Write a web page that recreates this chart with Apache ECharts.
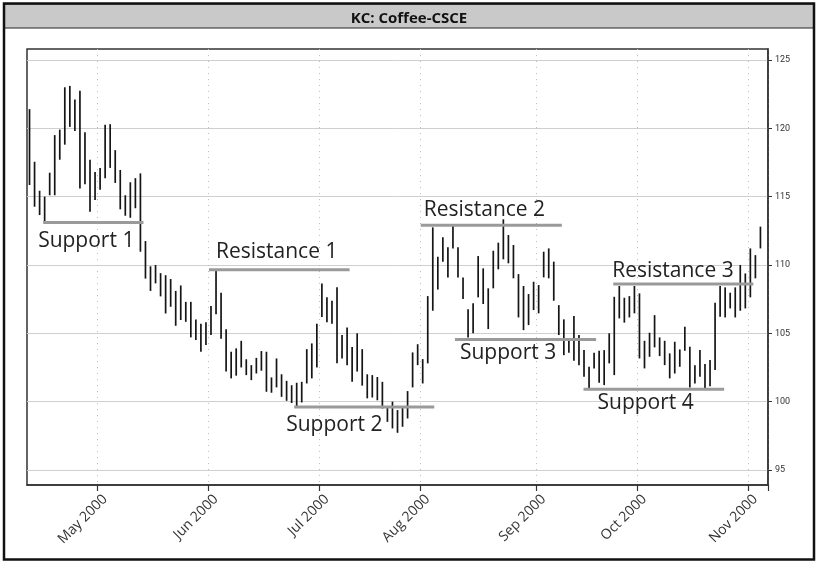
<!DOCTYPE html>
<html>
<head>
<meta charset="utf-8">
<script src="https://cdn.jsdelivr.net/npm/echarts@6/dist/echarts.min.js"></script>
<style>
  html, body { margin: 0; padding: 0; background: #fff; }
  #chart { width: 818px; height: 563px; }
</style>
</head>
<body>
<div id="chart"></div>
<script>
// Trading days (CSCE), Apr 10 - Nov 3 2000, one padding day at the end
const aprDays = [10, 11, 12, 13, 14, 17, 18, 19, 20, 24, 25, 26, 27, 28]
const mayDays = [1, 2, 3, 4, 5, 8, 9, 10, 11, 12, 15, 16, 17, 18, 19, 22, 23, 24, 25, 26, 30, 31]
const junDays = [1, 2, 5, 6, 7, 8, 9, 12, 13, 14, 15, 16, 19, 20, 21, 22, 23, 26, 27, 28, 29, 30]
const julDays = [3, 5, 6, 7, 10, 11, 12, 13, 14, 17, 18, 19, 20, 21, 24, 25, 26, 27, 28, 31]
const augDays = [1, 2, 3, 4, 7, 8, 9, 10, 11, 14, 15, 16, 17, 18, 21, 22, 23, 24, 25, 28, 29, 30, 31]
const sepDays = [1, 5, 6, 7, 8, 11, 12, 13, 14, 15, 18, 19, 20, 21, 22, 25, 26, 27, 28, 29]
const octDays = [2, 3, 4, 5, 6, 9, 10, 11, 12, 13, 16, 17, 18, 19, 20, 23, 24, 25, 26, 27, 30, 31]
const novDays = [1, 2, 3, 6]

const monthNames = ["Jan", "Feb", "Mar", "Apr", "May", "Jun", "Jul", "Aug", "Sep", "Oct", "Nov", "Dec"]

// daily high / low
const highs = [
  121.4, 117.55, 115.43, 115.0, 116.75, 119.5, 119.9, 123.0, 123.1, 122.1,
  122.75, 119.7, 117.7, 116.8, 117.1, 120.25, 120.3, 118.4, 116.95, 115.1,
  116.05, 116.35, 116.7, 111.75, 109.9, 110.0, 109.4, 109.25, 108.97, 108.1,
  108.5, 107.3, 107.3, 106.0, 105.7, 105.8, 107.0, 109.6, 107.97, 105.3,
  103.65, 103.9, 104.45, 103.1, 102.67, 103.2, 103.7, 103.65, 101.77, 103.16,
  102.0, 101.52, 101.2, 101.38, 101.45, 103.84, 104.26, 105.7, 108.65, 107.63,
  107.38, 108.36, 104.87, 105.43, 104.0, 105.0, 103.84, 102.0, 101.94, 101.8,
  101.45, 99.62, 100.0, 99.38, 99.62, 100.77, 103.6, 104.2, 103.11, 107.72,
  112.75, 110.6, 112.02, 111.29, 112.92, 111.29, 109.09, 106.75, 107.19, 110.65,
  109.75, 108.29, 111.04, 111.63, 113.34, 112.19, 111.46, 109.33, 108.46, 107.87,
  108.77, 108.53, 110.97, 111.21, 110.24, 107.06, 106.02, 104.45, 106.26, 104.87,
  103.77, 102.55, 103.57, 103.72, 103.77, 105.0, 107.67, 108.46, 107.6, 107.72,
  108.46, 107.92, 104.45, 105.04, 106.33, 104.7, 104.45, 103.53, 104.38, 103.82,
  105.48, 104.01, 102.67, 103.77, 102.75, 103.04, 107.23, 108.46, 108.36, 107.97,
  108.36, 110.0, 109.38, 111.21, 110.72, 112.8
]
const lows = [
  115.85, 114.26, 113.65, 113.16, 115.1, 115.1, 117.7, 118.8, 120.1, 119.8,
  115.6, 115.9, 113.9, 114.75, 115.5, 116.35, 117.1, 116.0, 114.07, 113.6,
  113.45, 114.15, 110.97, 109.0, 108.1, 108.65, 107.7, 106.45, 106.94, 105.55,
  105.97, 105.84, 104.7, 104.5, 103.65, 104.14, 104.87, 106.4, 104.6, 102.2,
  101.7, 101.9, 102.5, 101.94, 101.57, 102.06, 102.26, 100.72, 100.65, 101.04,
  100.35, 100.06, 99.9, 99.62, 99.94, 101.33, 101.7, 102.5, 106.2, 105.8,
  105.7, 102.8, 103.16, 102.67, 101.45, 102.2, 101.17, 100.24, 100.3, 100.1,
  99.5, 98.52, 98.04, 97.72, 98.16, 98.77, 101.04, 102.67, 101.33, 102.8,
  106.65, 108.2, 110.24, 109.09, 111.21, 109.09, 107.5, 104.7, 105.0, 107.63,
  107.14, 105.31, 108.29, 109.68, 110.41, 110.12, 109.02, 106.16, 105.23, 105.6,
  106.7, 106.46, 109.09, 109.02, 107.38, 104.87, 103.4, 103.57, 102.99, 102.67,
  101.82, 100.97, 102.43, 101.38, 101.21, 102.8, 101.94, 106.09, 105.78, 106.16,
  106.46, 103.16, 102.43, 103.28, 103.97, 103.33, 102.67, 101.7, 102.06, 102.55,
  103.72, 101.04, 101.33, 101.82, 100.97, 101.13, 102.31, 106.21, 106.16, 106.82,
  106.16, 106.65, 106.82, 107.63, 109.02, 111.21
]

// support / resistance levels: price, start and end (in trading-day positions)
const levelNames = ["Support 1", "Resistance 1", "Support 2", "Resistance 2", "Support 3", "Support 4", "Resistance 3"]
const levelPrice = [113.1, 109.65, 99.6, 112.9, 104.55, 100.9, 108.6]
const levelStart = [2.7, 35.6, 52.5, 77.6, 84.4, 109.9, 115.8]
const levelEnd = [22.6, 63.5, 80.3, 105.6, 112.4, 137.8, 143.6]

const priceTicks = [95, 100, 105, 110, 115, 120, 125]

// label placement relative to the start of each level line (px)
const labelLayout = [
  { dx: -5, dy: 18 }, { dx: 7, dy: -18 }, { dx: -8, dy: 17.5 }, { dx: 3, dy: -15.5 },
  { dx: 5, dy: 14 }, { dx: 14, dy: 13.5 }, { dx: -1, dy: -13.5 }
]

const pad = (d) => (d < 10 ? "0" + d : "" + d)
const dates = [].concat(
  aprDays.map((d) => "2000-04-" + pad(d)),
  mayDays.map((d) => "2000-05-" + pad(d)),
  junDays.map((d) => "2000-06-" + pad(d)),
  julDays.map((d) => "2000-07-" + pad(d)),
  augDays.map((d) => "2000-08-" + pad(d)),
  sepDays.map((d) => "2000-09-" + pad(d)),
  octDays.map((d) => "2000-10-" + pad(d)),
  novDays.map((d) => "2000-11-" + pad(d))
)

// first trading day of each month gets the tick, the grid line and the label
function isMonthStart(index) {
  return index > 0 && dates[index].slice(5, 7) !== dates[index - 1].slice(5, 7)
}

function monthLabel(value) {
  return monthNames[+value.slice(5, 7) - 1] + " " + value.slice(0, 4)
}

function renderBar(params, api) {
  const hi = api.coord([api.value(0), api.value(2)])
  const lo = api.coord([api.value(0), api.value(1)])
  return {
    type: "line",
    shape: { x1: hi[0], y1: hi[1], x2: lo[0], y2: lo[1] },
    style: { stroke: "#151515", lineWidth: 1.7 }
  }
}

function renderLevel(params, api) {
  const i = params.dataIndex
  const p0 = api.coord([0, levelPrice[i]])
  const p1 = api.coord([1, levelPrice[i]])
  const band = p1[0] - p0[0]
  const x1 = p0[0] + levelStart[i] * band
  const x2 = p0[0] + levelEnd[i] * band
  const y = p0[1]
  return {
    type: "group",
    children: [
      { type: "line", shape: { x1, y1: y, x2, y2: y }, style: { stroke: "#9a9a9a", lineWidth: 3 } },
      {
        type: "text",
        x: x1 + labelLayout[i].dx,
        y: y + labelLayout[i].dy,
        style: {
          text: levelNames[i],
          fill: "#222",
          font: '21px "Open Sans"',
          verticalAlign: "middle",
          align: "left"
        }
      }
    ]
  }
}

const chart = echarts.init(document.getElementById("chart"), null, { renderer: "canvas" })

chart.setOption({
  animation: false,
  title: {
    text: "KC: Coffee-CSCE",
    left: "center",
    top: 6,
    z: 10,
    textStyle: { fontFamily: "Open Sans", fontSize: 15, fontWeight: "bold", color: "#111" }
  },
  graphic: [
    {
      type: "rect",
      z: 1,
      shape: { x: 4, y: 4, width: 810, height: 24 },
      style: { fill: "#c9c9c9", stroke: "#222", lineWidth: 1 }
    },
    {
      type: "rect",
      z: 2,
      shape: { x: 4, y: 3.5, width: 810, height: 556 },
      style: { fill: "none", stroke: "#111", lineWidth: 2.5 }
    }
  ],
  grid: {
    left: 27,
    top: 49,
    width: 741,
    height: 436,
    show: true,
    borderColor: "#333",
    borderWidth: 1.5
  },
  xAxis: {
    type: "category",
    data: dates,
    boundaryGap: true,
    axisLine: { show: true, lineStyle: { color: "#333", width: 1.5 } },
    axisTick: { show: true, interval: isMonthStart, length: 6, lineStyle: { color: "#333", width: 1.2 } },
    axisLabel: {
      interval: isMonthStart,
      rotate: 45,
      margin: 7,
      verticalAlign: "top",
      formatter: monthLabel,
      fontFamily: "Open Sans",
      fontSize: 14,
      color: "#333"
    },
    splitLine: {
      show: true,
      interval: isMonthStart,
      lineStyle: { color: "#bdbdbd", width: 1, type: [1, 5] }
    }
  },
  yAxis: {
    type: "value",
    position: "right",
    min: 93.9,
    max: 125.8,
    axisLine: { show: true, lineStyle: { color: "#333", width: 1.5 } },
    axisTick: { show: true, customValues: priceTicks, length: 4, lineStyle: { color: "#333" } },
    axisLabel: {
      customValues: priceTicks,
      margin: 7,
      fontFamily: "Roboto",
      fontSize: 9,
      color: "#333"
    },
    splitLine: { show: true, lineStyle: { color: "#cfcfcf", width: 1 } }
  },
  series: [
    {
      type: "custom",
      renderItem: renderBar,
      encode: { x: 0, y: [1, 2] },
      data: highs.map((h, i) => [i, lows[i], h]),
      z: 3
    },
    {
      type: "custom",
      renderItem: renderLevel,
      encode: { x: 0, y: 1 },
      data: levelNames.map((n, i) => [levelStart[i], levelPrice[i]]),
      z: 4
    }
  ]
})
</script>
</body>
</html>
